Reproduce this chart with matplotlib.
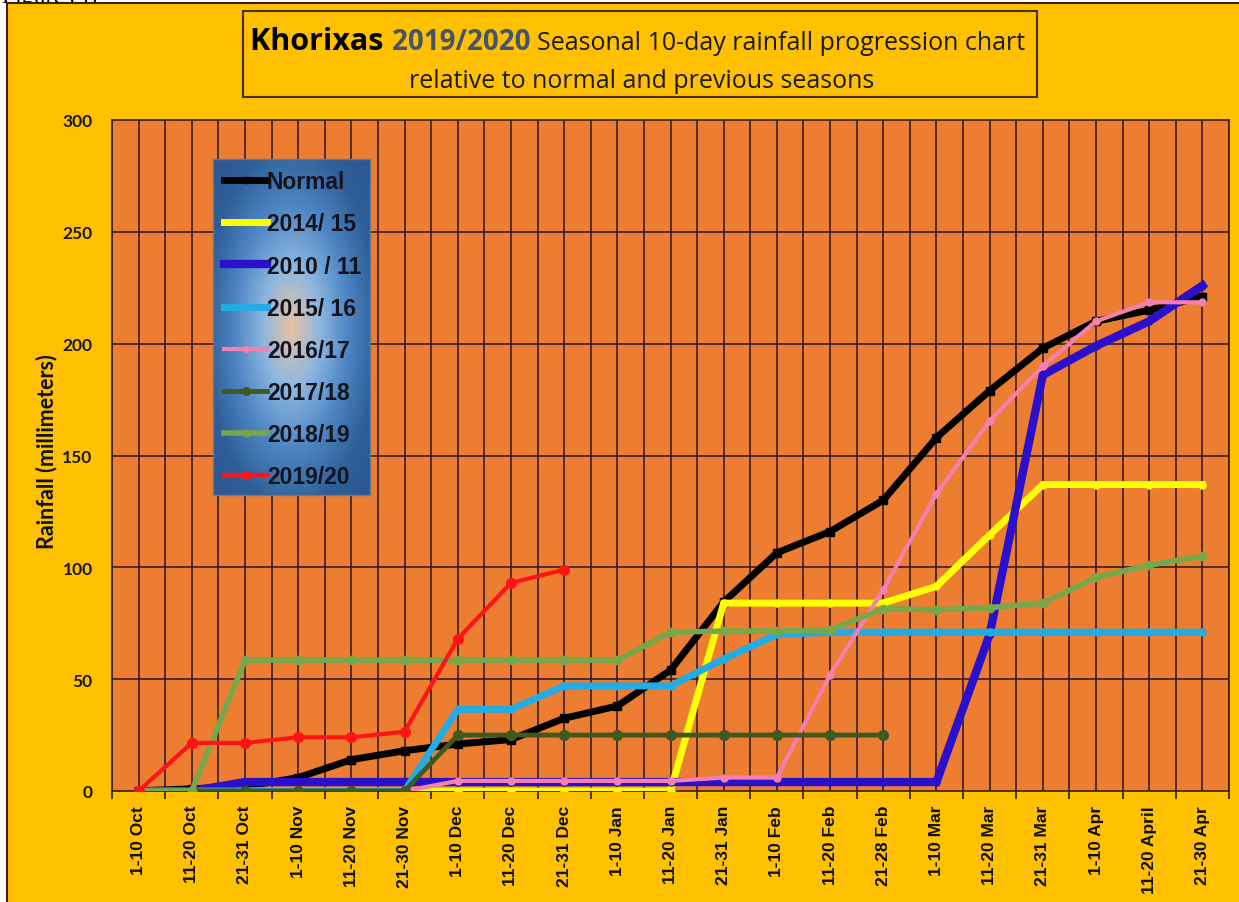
import numpy as np
import matplotlib
matplotlib.use("Agg")
import matplotlib.pyplot as plt
from matplotlib.patches import Rectangle
from matplotlib.colors import LinearSegmentedColormap

# dekads of the rainy season
categories = ['1-10 Oct', '11-20 Oct', '21-31 Oct', '1-10 Nov', '11-20 Nov', '21-30 Nov',
              '1-10 Dec', '11-20 Dec', '21-31 Dec', '1-10 Jan', '11-20 Jan', '21-31 Jan',
              '1-10 Feb', '11-20 Feb', '21-28 Feb', '1-10 Mar', '11-20 Mar', '21-31 Mar',
              '1-10 Apr', '11-20 April', '21-30 Apr']

# cumulative rainfall (mm)
normal = [0, 1, 2, 6, 14, 18, 21, 23, 32.5, 38, 54, 84.5, 106.5, 116, 130, 158, 179, 198, 210, 215, 221]
s2014 = [0, 0, 0, 0, 0, 0, 0, 0, 0, 0, 0, 84, 84, 84, 84, 91.5, 114.5, 137, 137, 137, 137]
s2010 = [0, 0, 4, 4, 4, 4, 4, 4, 4, 4, 4, 4, 4, 4, 4, 4, 70, 186, 199, 210, 226]
s2015 = [0, 0, 0, 0, 0, 0, 36.5, 36.5, 47, 47, 47, 59, 70, 71, 71, 71, 71, 71, 71, 71, 71]
s2016 = [0, 0, 0, 0, 0, 0, 4.5, 4.5, 4.5, 4.5, 4.5, 6, 6, 52, 90, 133, 165.5, 190, 210, 218.5, 218.5]
s2017 = [0, 0, 0, 0, 0, 0, 25, 25, 25, 25, 25, 25, 25, 25, 25]
s2018 = [0, 0, 58.5, 58.5, 58.5, 58.5, 58.5, 58.5, 58.5, 58.5, 71, 71.5, 71.5, 72, 81.5, 81, 82, 84, 95.5, 101, 105]
s2019 = [0, 21.5, 21.5, 24, 24, 26.5, 68, 93, 99]

labels = ['Normal', '2014/ 15', '2010 / 11', '2015/ 16', '2016/17', '2017/18', '2018/19', '2019/20']

W, H = 1239, 903
fig = plt.figure(figsize=(W / 100, H / 100), dpi=100, facecolor='white')

# yellow chart area with border (left/top edges visible)
fig.text(0.002, 1 - 2.5 / H, 'Figure (4)', fontsize=17, family='Liberation Serif',
         va='baseline', zorder=0)
bg = Rectangle((7 / W, -0.02), 1.0, (H - 4) / H + 0.02, transform=fig.transFigure,
               facecolor='#FFC000', edgecolor='#3a2010', lw=1.5, zorder=0.5)
fig.add_artist(bg)

ax = fig.add_axes([112 / W, 111 / H, 1117 / W, 671 / H])
ax.set_zorder(2)
ax.set_facecolor('#ED7D31')
x = np.arange(len(categories))

series = [
    (normal, 'black', 5, 's', 6),
    (s2014, '#FFFF00', 5, 'o', 5),
    (s2010, '#2A10CC', 6, 'o', 5),
    (s2015, '#22ACE3', 5, 'o', 5),
    (s2016, '#F57FAE', 3, 'o', 5),
    (s2017, '#3F5A1F', 3.5, 'o', 7),
    (s2018, '#76A84A', 4, 'o', 6),
    (s2019, '#FF1414', 3, 'o', 7),
]
lines = []
for i, (vals, col, lw, mk, ms) in enumerate(series):
    ln, = ax.plot(x[:len(vals)], vals, color=col, lw=lw, marker=mk, ms=ms,
                  mfc=col, mec=col, zorder=3 + i, solid_joinstyle='miter')
    lines.append(ln)

ax.set_xlim(-0.5, len(categories) - 0.5)
ax.set_ylim(0, 300)
ax.set_yticks(np.arange(0, 301, 50))
ax.set_xticks(x)
ax.set_xticklabels(categories, rotation=90, ha='center', va='top',
                   fontsize=12.5, fontweight='bold', family='Liberation Sans', color='#111111')
ax.set_xticks(np.arange(-0.5, len(categories), 1), minor=True)
ax.tick_params(axis='x', which='major', length=0, pad=10)
ax.tick_params(axis='x', which='minor', length=6, width=1.2, color='#2a1a1a', direction='out')
ax.tick_params(axis='y', length=0, pad=14)
for t in ax.get_yticklabels():
    t.set_fontsize(12.5)
    t.set_fontweight('bold')
    t.set_family('Lato')
    t.set_color('#1a1a1a')

# grid: every half-dekad vertically, every 50 mm horizontally
for gx in np.arange(-0.5, len(categories), 0.5):
    ax.axvline(gx, color='#2a1526', lw=1.1, zorder=1)
for gy in np.arange(50, 300, 50):
    ax.axhline(gy, color='#2a1526', lw=1.1, zorder=1)
for sp in ax.spines.values():
    sp.set_color('#3a2010')
    sp.set_linewidth(1.2)

fig.text(47 / W, 1 - 452 / H, 'Rainfall (millimeters)', rotation=90, ha='center', va='center',
         fontsize=15.5, fontweight='bold', family='Lato', color='#111111')

# title box
fig.add_artist(Rectangle((243 / W, 1 - 98 / H), 794 / W, 86 / H, transform=fig.transFigure,
                         facecolor='#FFC000', edgecolor='#4a2e10', lw=1.5, zorder=1))
fig.canvas.draw()
r = fig.canvas.get_renderer()
parts = [('Khorixas ', 'black', 'bold', 22), ('2019/2020 ', '#44546A', 'bold', 20),
         ('Seasonal 10-day rainfall progression chart', '#1a1a1a', 'normal', 18)]
texts = []
for s, c, w, fs in parts:
    texts.append(fig.text(0, 1 - 50 / H, s, color=c, fontweight=w, fontsize=fs,
                          family='Open Sans', va='baseline', zorder=2))
widths = [t.get_window_extent(r).width for t in texts]
xpos = 638 - sum(widths) / 2
for t, wd in zip(texts, widths):
    t.set_x(xpos / W)
    xpos += wd
fig.text(642 / W, 1 - 88 / H, 'relative to normal and previous seasons', color='#1a1a1a',
         fontsize=18, family='Open Sans', ha='center', va='baseline', zorder=2)

# legend with blue radial gradient background
lax = fig.add_axes([213 / W, 1 - 496 / H, 157 / W, 336 / H])
lax.set_zorder(3)
gx, gy = np.meshgrid(np.linspace(-1, 1, 200), np.linspace(-1, 1, 400))
rr = np.sqrt(gx ** 2 + gy ** 2)
cmap = LinearSegmentedColormap.from_list('lg', ['#E9C3A4', '#8DB7E0', '#4E86C4', '#2F5F98', '#2A5690'])
lax.imshow(rr, cmap=cmap, vmin=0, vmax=1.45, extent=(0, 1, 0, 1), aspect='auto')
lax.set_xticks([])
lax.set_yticks([])
for sp in lax.spines.values():
    sp.set_color('#6a7a8a')
    sp.set_linewidth(1)
leg = lax.legend(lines, labels, loc='upper left', bbox_to_anchor=(0.0, 1.0), frameon=False,
                 prop={'family': 'Liberation Sans', 'weight': 'bold', 'size': 16.5},
                 handlelength=1.85, handletextpad=0.0, labelspacing=0.83, borderaxespad=0.2,
                 borderpad=0.3, markerscale=0.8)
for t in leg.get_texts():
    t.set_color('#14141e')

fig.savefig('out.png', dpi=100, facecolor='white')
